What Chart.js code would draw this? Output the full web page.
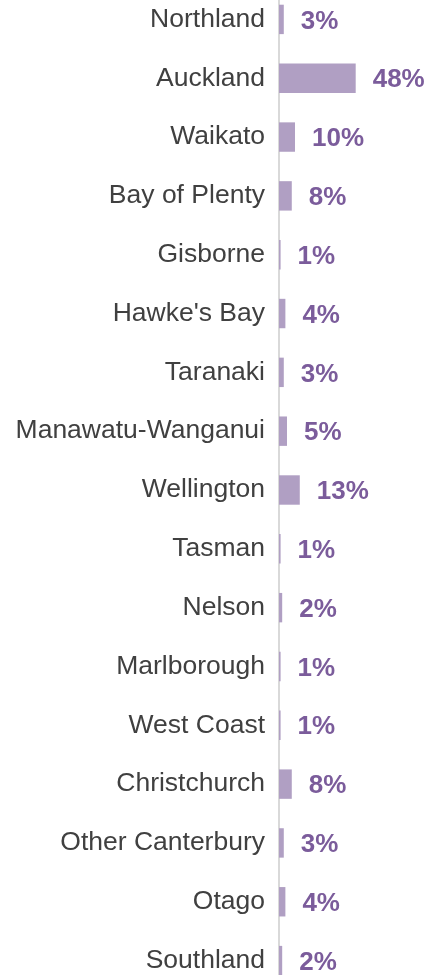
<!DOCTYPE html>
<html>
<head>
<meta charset="utf-8">
<script src="https://cdn.jsdelivr.net/npm/chart.js@4.4.0/dist/chart.umd.min.js"></script>
<style>
    html, body { margin: 0; padding: 0; background: #fff; overflow: hidden; }
    #wrap { position: absolute; left: 0; top: -10px; width: 434px; height: 1000px; }
</style>
</head>
<body>
<div id="wrap"><canvas id="regionChart" width="434" height="1000"></canvas></div>
<script>
// Regions and share (%)
const regions = ['Northland', 'Auckland', 'Waikato', 'Bay of Plenty', 'Gisborne', "Hawke's Bay", 'Taranaki',
    'Manawatu-Wanganui', 'Wellington', 'Tasman', 'Nelson', 'Marlborough', 'West Coast', 'Christchurch',
    'Other Canterbury', 'Otago', 'Southland'];
const shares = [3, 48, 10, 8, 1, 4, 3, 5, 13, 1, 2, 1, 1, 8, 3, 4, 2];

const FONT = '"Liberation Sans", Arial, sans-serif';

// draws the % label just past the end of each bar
const valueLabels = {
    id: 'valueLabels',
    afterDatasetsDraw(chart) {
        const ctx = chart.ctx;
        const meta = chart.getDatasetMeta(0);
        ctx.save();
        ctx.font = 'bold 26px ' + FONT;
        ctx.fillStyle = '#7b5c9b';
        ctx.textAlign = 'left';
        ctx.textBaseline = 'middle';
        meta.data.forEach((bar, i) => {
            ctx.fillText(shares[i] + '%', bar.x + 17, bar.y + 2);
        });
        ctx.restore();
    }
};

const ctx = document.getElementById('regionChart').getContext('2d');
const regionChart = new Chart(ctx, {
    type: 'bar',
    data: {
        labels: regions,
        datasets: [{
            data: shares,
            backgroundColor: '#b09fc3',
            borderWidth: 0,
            categoryPercentage: 1,
            barPercentage: 0.5
        }]
    },
    plugins: [valueLabels],
    options: {
        indexAxis: 'y',
        responsive: false,
        animation: false,
        layout: { padding: 0 },
        plugins: {
            legend: { display: false },
            tooltip: { enabled: false }
        },
        scales: {
            x: {
                display: false,
                min: 0,
                max: 97
            },
            y: {
                grid: { display: false, drawTicks: false },
                border: { display: true, color: '#d9d9d9', width: 2 },
                ticks: {
                    color: '#404040',
                    padding: 14,
                    font: { family: FONT, size: 26.5 }
                },
                afterFit(scale) {
                    scale.width = 279;
                    // no extra room above/below for the tick labels
                    scale.paddingTop = 0;
                    scale.paddingBottom = 0;
                }
            }
        }
    }
});
</script>
</body>
</html>
